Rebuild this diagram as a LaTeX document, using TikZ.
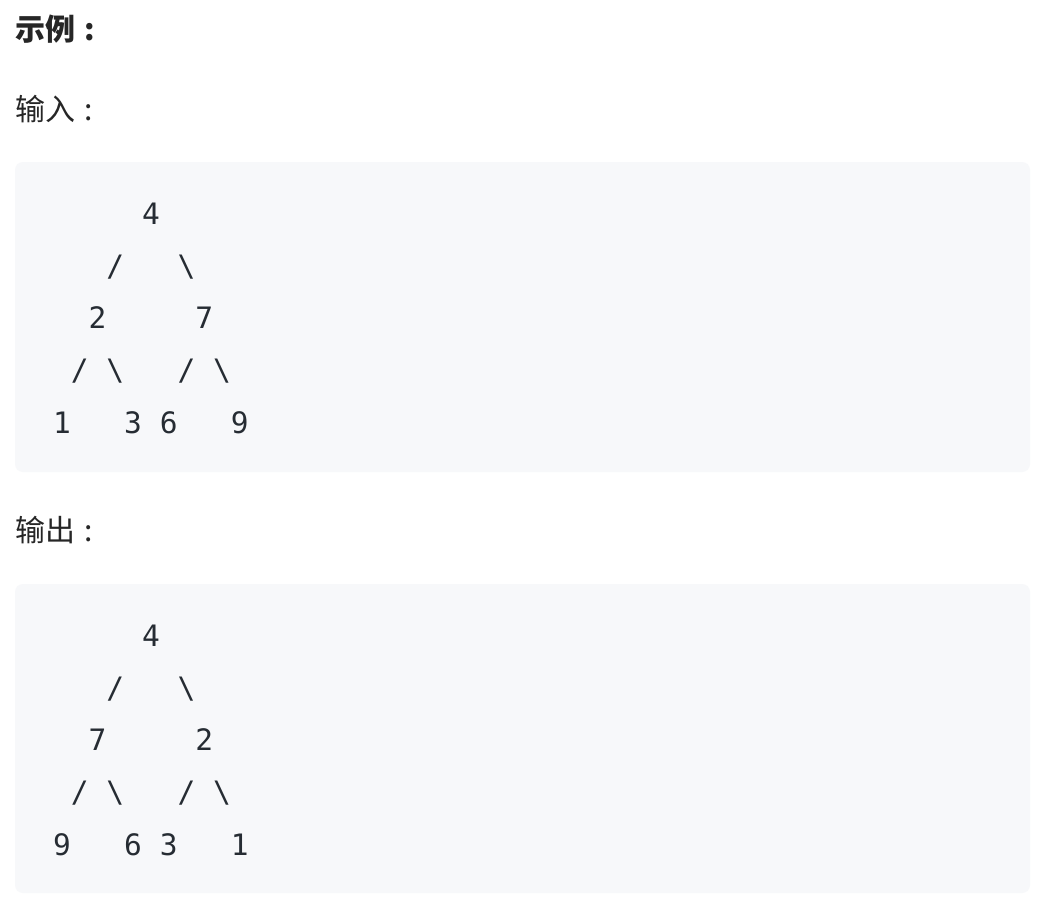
\documentclass[tikz,border=0pt]{standalone}
\usepackage{fontspec}
\newfontfamily\cjk{Noto Sans CJK SC}
\setmonofont{DejaVu Sans Mono}
\definecolor{codebg}{HTML}{F7F8FA}
\definecolor{codefg}{HTML}{262C33}
\definecolor{headfg}{HTML}{262626}
\tikzset{
  heading/.style={anchor=base west, inner sep=0pt, text=headfg, font=\cjk\fontsize{30}{36}\selectfont},
  codeline/.style={anchor=base west, inner sep=0pt, text=codefg, font=\ttfamily\fontsize{29.5}{36}\selectfont},
  codebox/.style={fill=codebg, draw=none, rounded corners=8pt}
}
\begin{document}
\begin{tikzpicture}[x=1pt,y=1pt]
\useasboundingbox[fill=white] (0,0) rectangle (1045,-907);
% headings
\node[heading, font=\cjk\bfseries\fontsize{30}{36}\selectfont] (title) at (15,-41) {示例\kern9pt:};
\node[heading] (inlabel) at (15,-121) {输入\kern9pt:};
\node[heading] (outlabel) at (15,-541) {输出\kern9pt:};
% code blocks
\path[codebox] (15,-162) rectangle (1030,-472);
\path[codebox] (15,-584) rectangle (1030,-893);
% input tree
\node[codeline] (i1) at (53,-224) {\ \ \ \ \ 4};
\node[codeline] (i2) at (53,-276.25) {\ \ \ /\ \ \ \textbackslash};
\node[codeline] (i3) at (53,-328.5) {\ \ 2\ \ \ \ \ 7};
\node[codeline] (i4) at (53,-380.75) {\ /\ \textbackslash\ \ \ /\ \textbackslash};
\node[codeline] (i5) at (53,-433) {1\ \ \ 3\ 6\ \ \ 9};
% output tree
\node[codeline] (o1) at (53,-646) {\ \ \ \ \ 4};
\node[codeline] (o2) at (53,-698.25) {\ \ \ /\ \ \ \textbackslash};
\node[codeline] (o3) at (53,-750.5) {\ \ 7\ \ \ \ \ 2};
\node[codeline] (o4) at (53,-802.75) {\ /\ \textbackslash\ \ \ /\ \textbackslash};
\node[codeline] (o5) at (53,-855) {9\ \ \ 6\ 3\ \ \ 1};
\end{tikzpicture}
\end{document}
